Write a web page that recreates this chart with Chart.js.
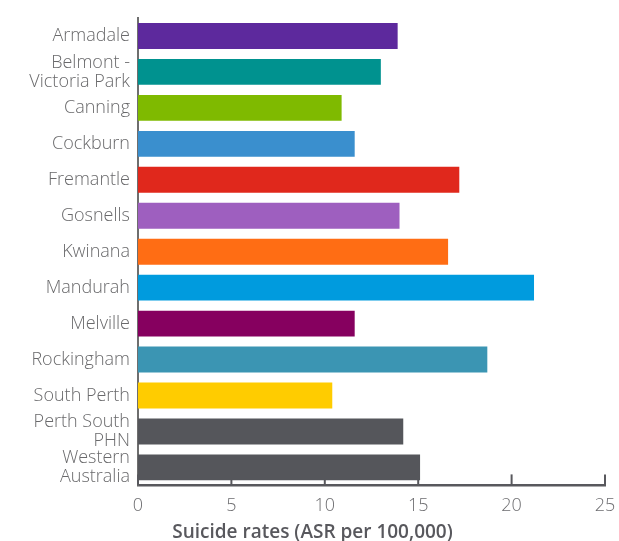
<!DOCTYPE html>
<html>
<head>
<meta charset="utf-8">
<title>Suicide rates by LGA</title>
<script src="https://cdn.jsdelivr.net/npm/chart.js@4.4.1/dist/chart.umd.min.js"></script>
<style>
    html, body { margin: 0; padding: 0; background: #fff; }
    #wrap { width: 619px; height: 541px; position: relative; }
</style>
</head>
<body>
<div id="wrap"><canvas id="rateChart"></canvas></div>
<script>
// ── Data ────────────────────────────────────────────────────────────────────
const regions = [
    'Armadale', ['Belmont -', 'Victoria Park'], 'Canning', 'Cockburn', 'Fremantle',
    'Gosnells', 'Kwinana', 'Mandurah', 'Melville', 'Rockingham', 'South Perth',
    ['Perth South', 'PHN'], ['Western', 'Australia']
];
const rates = [13.9, 13.0, 10.9, 11.6, 17.2, 14.0, 16.6, 21.2, 11.6, 18.7, 10.4, 14.2, 15.1];
const barColors = [
    '#5d299d', '#00928f', '#7fba00', '#3a8fce', '#e0281c', '#9e5fbf', '#ff6d14',
    '#009bde', '#86005f', '#3b95b3', '#ffcc00', '#55565b', '#55565b'
];
const xTicks = [0, 5, 10, 15, 20, 25];

const FONT = '"Open Sans", Lato, sans-serif';
const PAD_LEFT = 20;

// small upward tick marks on the x axis, drawn under the bars
const innerTicks = {
    id: 'innerTicks',
    beforeDatasetsDraw(chart) {
        const { ctx, chartArea, scales } = chart;
        ctx.save();
        ctx.strokeStyle = '#58585d';
        ctx.lineWidth = 2;
        xTicks.forEach(v => {
            const x = scales.x.getPixelForValue(v);
            ctx.beginPath();
            ctx.moveTo(x, chartArea.bottom);
            ctx.lineTo(x, chartArea.bottom - 11);
            ctx.stroke();
        });
        ctx.restore();
    }
};

// stop the label overhang from pushing the plot area around
function noOverhang(axis) {
    axis.paddingLeft = 0;
    axis.paddingRight = 0;
    axis.paddingTop = 0;
    axis.paddingBottom = 0;
}

function renderChart() {
    const ctx = document.getElementById('rateChart').getContext('2d');
    new Chart(ctx, {
        type: 'bar',
        data: {
            labels: regions,
            datasets: [{
                data: rates,
                backgroundColor: barColors,
                borderWidth: 0,
                barPercentage: 0.72,
                categoryPercentage: 1
            }]
        },
        options: {
            indexAxis: 'y',
            responsive: true,
            maintainAspectRatio: false,
            animation: false,
            layout: { padding: { top: 18, left: PAD_LEFT, right: 14, bottom: 0 } },
            plugins: {
                legend: { display: false },
                tooltip: { enabled: false },
                title: {
                    display: true,
                    position: 'bottom',
                    text: 'Suicide rates (ASR per 100,000)',
                    color: '#58585d',
                    font: { family: FONT, size: 19, weight: '600', lineHeight: 1 },
                    padding: { top: -4, bottom: -1 }
                }
            },
            scales: {
                x: {
                    min: 0,
                    max: 25,
                    afterBuildTicks: axis => { axis.ticks = xTicks.map(v => ({ value: v })); },
                    afterFit: noOverhang,
                    grid: { display: false, drawTicks: false },
                    border: { display: true, color: '#58585d', width: 2.5 },
                    ticks: {
                        padding: 10,
                        color: '#6d6d70',
                        font: { family: FONT, size: 18, weight: '300' }
                    }
                },
                y: {
                    afterFit: axis => { noOverhang(axis); axis.width = 138 - PAD_LEFT; },
                    grid: { display: false, drawTicks: false },
                    border: { display: true, color: '#6e6e6e', width: 2 },
                    ticks: {
                        autoSkip: false,
                        padding: 8,
                        color: '#69696b',
                        font: { family: FONT, size: 18, weight: '300', lineHeight: 1.05 }
                    }
                }
            }
        },
        plugins: [innerTicks]
    });
}

renderChart();
</script>
</body>
</html>
